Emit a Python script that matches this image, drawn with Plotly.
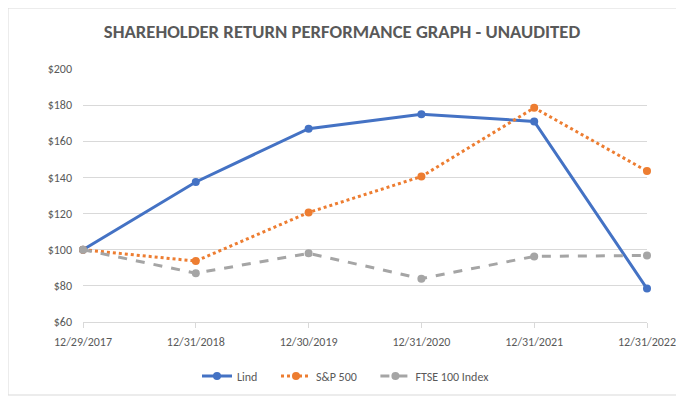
import plotly.graph_objects as go

dates = ["12/29/2017", "12/31/2018", "12/30/2019", "12/31/2020", "12/31/2021", "12/31/2022"]
lind = [100, 137.5, 167, 175, 171, 78.5]
sp500 = [100, 93.7, 120.6, 140.5, 178.5, 143.5]
ftse = [100, 87, 98, 84, 96.3, 96.8]
y_ticks = [60, 80, 100, 120, 140, 160, 180, 200]
y_labels = ["$" + str(v) for v in y_ticks]
series_names = ["Lind", "S&P 500", "FTSE 100 Index"]

FONT = "Carlito, Calibri, Lato, sans-serif"
GREY_TXT = "#595959"
NB = "\u00a0"

# page body has an 8px margin, so the figure is shifted by 8px
OFF = 8
W, H = 684 - OFF, 397 - OFF
L, R, T, B = 83 - OFF, 37, 69 - OFF, 75
PW, PH = W - L - R, H - T - B

fig = go.Figure()
fig.add_trace(go.Scatter(x=dates, y=lind, name=series_names[0] + NB * 5,
                         mode="lines+markers",
                         line=dict(color="#4472C4", width=3),
                         marker=dict(size=8, color="#4472C4"), cliponaxis=False))
fig.add_trace(go.Scatter(x=dates, y=sp500, name=series_names[1] + NB * 5,
                         mode="lines+markers",
                         line=dict(color="#ED7D31", width=3, dash="dot"),
                         marker=dict(size=8, color="#ED7D31"), cliponaxis=False))
fig.add_trace(go.Scatter(x=dates, y=ftse, name=series_names[2], mode="lines+markers",
                         line=dict(color="#A5A5A5", width=3, dash="dash"),
                         marker=dict(size=8, color="#A5A5A5"), cliponaxis=False))

fig.update_layout(
    width=W, height=H,
    margin=dict(l=L, r=R, t=T, b=B, autoexpand=False),
    paper_bgcolor="white", plot_bgcolor="white",
    font=dict(family=FONT, size=12, color=GREY_TXT),
    title=dict(text="<b>SHAREHOLDER RETURN PERFORMANCE GRAPH - UNAUDITED</b>",
               x=(342 - OFF) / W, xanchor="center", y=1 - (31 - OFF) / H, yanchor="middle",
               font=dict(family=FONT, size=18.7, color=GREY_TXT)),
    showlegend=True,
    legend=dict(orientation="h", x=(346 - OFF - L) / PW, xanchor="center",
                y=-(376 - 322) / PH, yanchor="middle",
                font=dict(size=12, color=GREY_TXT), itemwidth=30,
                bgcolor="rgba(0,0,0,0)"),
    xaxis=dict(type="category", range=[0, 5], showgrid=False,
               showline=True, linecolor="#D9D9D9", linewidth=1,
               ticks="outside", ticklen=5, tickcolor="#D9D9D9",
               ticklabelstandoff=4, zeroline=False,
               tickfont=dict(size=12, color=GREY_TXT)),
    yaxis=dict(range=[60, 200], tickvals=y_ticks, ticktext=y_labels,
               showgrid=True, gridcolor="#D9D9D9", gridwidth=1,
               zeroline=False, showline=False, ticks="",
               ticklabelstandoff=10,
               tickfont=dict(size=12, color=GREY_TXT)),
    shapes=[dict(type="rect", xref="paper", yref="paper",
                 x0=-L / PW, x1=1 + (R - 2) / PW, y0=-(B - 2) / PH, y1=1 + T / PH,
                 line=dict(color="#D9D9D9", width=1), fillcolor="rgba(0,0,0,0)")]
)

fig.write_html("out.html")
